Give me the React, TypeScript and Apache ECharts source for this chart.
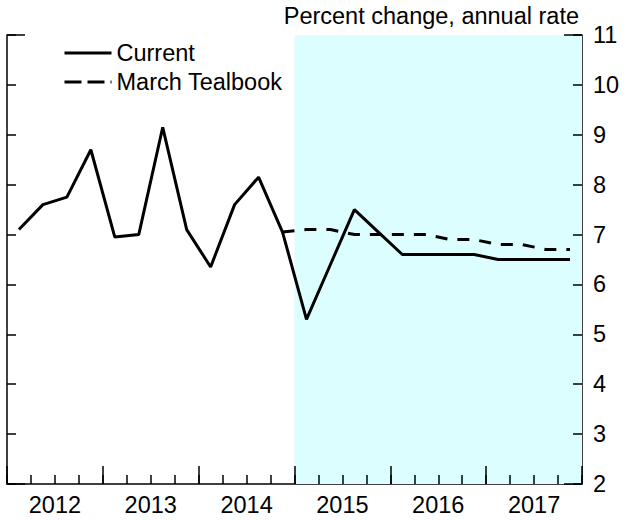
import React, { useEffect, useRef } from "react";
import * as echarts from "echarts";

const quarters: string[] = [
  "2012Q1", "2012Q2", "2012Q3", "2012Q4",
  "2013Q1", "2013Q2", "2013Q3", "2013Q4",
  "2014Q1", "2014Q2", "2014Q3", "2014Q4",
  "2015Q1", "2015Q2", "2015Q3", "2015Q4",
  "2016Q1", "2016Q2", "2016Q3", "2016Q4",
  "2017Q1", "2017Q2", "2017Q3", "2017Q4",
];
const years: string[] = ["2012", "2013", "2014", "2015", "2016", "2017"];
const forecastYears: string[] = ["2015", "2016", "2017"];

const currentValues: (number | null)[] = [
  7.1, 7.6, 7.75, 8.7,
  6.95, 7.0, 9.15, 7.1,
  6.35, 7.6, 8.15, 7.05,
  5.3, 6.4, 7.5, 7.05,
  6.6, 6.6, 6.6, 6.6,
  6.5, 6.5, 6.5, 6.5,
];
const marchTealbook: (number | null)[] = [
  null, null, null, null,
  null, null, null, null,
  null, null, null, 7.05,
  7.1, 7.1, 7.0, 7.0,
  7.0, 7.0, 6.9, 6.9,
  6.8, 6.8, 6.7, 6.7,
];
const yMin = 2;
const yMax = 11;
const unitLabel = "Percent change, annual rate";

const FONT = "'Liberation Sans', Arial, sans-serif";
const FS = 23.5;

export default function App() {
  const ref = useRef<HTMLDivElement>(null);
  useEffect(() => {
    document.body.style.margin = "0";
    if (!ref.current) return;
    const chart = echarts.init(ref.current, null, { renderer: "svg" });
    const axisLine = { show: true, lineStyle: { color: "#000", width: 1.5 } };
    const tickStyle = { color: "#000", width: 1.5 };
    const shade = years.map((y) => (forecastYears.includes(y) ? yMax : null));
    chart.setOption({
      animation: false,
      backgroundColor: "#fff",
      textStyle: { fontFamily: FONT },
      grid: { left: 7, right: 50, top: 35, bottom: 36, containLabel: false },
      graphic: [
        {
          type: "text",
          right: 53,
          top: 4,
          style: { text: unitLabel, font: `${FS}px ${FONT}`, fill: "#000" },
        },
      ],
      legend: {
        orient: "vertical",
        left: 63,
        top: 41,
        padding: 0,
        itemWidth: 47,
        itemHeight: 14,
        itemGap: 5,
        itemStyle: { opacity: 0 },
        lineStyle: { width: 3, color: "#000" },
        textStyle: { fontSize: FS, color: "#000", fontFamily: FONT, lineHeight: 23 },
        data: [
          { name: "Current", lineStyle: { width: 3, color: "#000", type: "solid" } },
          { name: "March Tealbook", lineStyle: { width: 3, color: "#000", type: [17, 6] } },
        ],
      },
      xAxis: [
        {
          type: "category",
          data: quarters,
          boundaryGap: true,
          position: "bottom",
          axisLine,
          axisTick: { show: true, inside: true, length: 9, interval: 0, lineStyle: tickStyle },
          axisLabel: { show: false },
          splitLine: { show: false },
        },
        {
          type: "category",
          data: years,
          boundaryGap: true,
          position: "bottom",
          axisLine: { show: false },
          axisTick: { show: true, inside: true, length: 18, interval: 0, lineStyle: tickStyle },
          axisLabel: { show: true, interval: 0, fontSize: FS, color: "#000", fontFamily: FONT, margin: 9 },
          splitLine: { show: false },
        },
      ],
      yAxis: [
        {
          type: "value",
          position: "right",
          min: yMin,
          max: yMax,
          interval: 1,
          axisLine,
          axisTick: { show: true, inside: true, length: 9, lineStyle: tickStyle },
          axisLabel: { show: true, fontSize: FS, color: "#000", fontFamily: FONT, margin: 11 },
          splitLine: { show: false },
        },
        {
          type: "value",
          position: "left",
          min: yMin,
          max: yMax,
          interval: 1,
          axisLine,
          axisTick: { show: true, inside: true, length: 9, lineStyle: tickStyle },
          axisLabel: { show: false },
          splitLine: { show: false },
        },
        {
          type: "value",
          position: "right",
          min: yMin,
          max: yMax,
          interval: yMax - yMin,
          axisLine: { show: false },
          axisTick: { show: true, inside: true, length: 18, lineStyle: tickStyle },
          axisLabel: { show: false },
          splitLine: { show: false },
        },
        {
          type: "value",
          position: "left",
          min: yMin,
          max: yMax,
          interval: yMax - yMin,
          axisLine: { show: false },
          axisTick: { show: true, inside: true, length: 18, lineStyle: tickStyle },
          axisLabel: { show: false },
          splitLine: { show: false },
        },
      ],
      series: [
        {
          name: "forecast",
          type: "bar",
          xAxisIndex: 1,
          yAxisIndex: 0,
          data: shade,
          barWidth: "100%",
          barGap: "0%",
          barCategoryGap: "0%",
          itemStyle: { color: "#dcfefe" },
          silent: true,
          z: 0,
        },
        {
          name: "Current",
          type: "line",
          xAxisIndex: 0,
          yAxisIndex: 0,
          data: currentValues,
          symbol: "none",
          lineStyle: { color: "#000", width: 3 },
          itemStyle: { color: "#000" },
          z: 3,
        },
        {
          name: "March Tealbook",
          type: "line",
          xAxisIndex: 0,
          yAxisIndex: 0,
          data: marchTealbook,
          symbol: "none",
          lineStyle: { color: "#000", width: 3, type: [12, 10] },
          itemStyle: { color: "#000" },
          z: 3,
        },
      ],
    });
    return () => chart.dispose();
  }, []);
  return (
    <div
      ref={ref}
      style={{ width: 632, height: 520, position: "absolute", left: 0, top: 0 }}
    />
  );
}
